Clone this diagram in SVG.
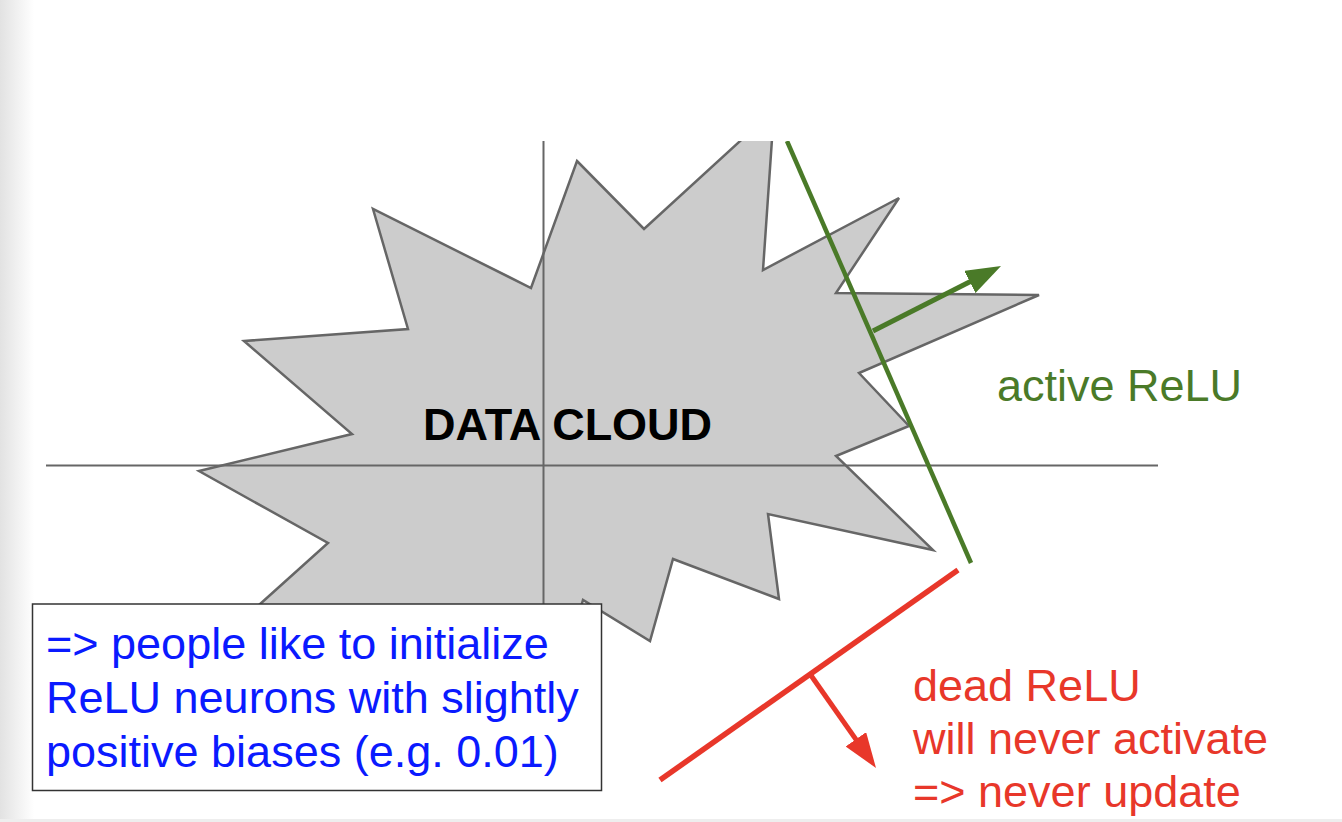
<svg xmlns="http://www.w3.org/2000/svg" width="1342" height="822" viewBox="0 0 1342 822">
<style>
  .axis{stroke:#666;stroke-width:2;fill:none}
  .star{fill:#cccccc;stroke:#666;stroke-width:2.5;stroke-linejoin:miter}
  .t{font-family:"Liberation Sans",Arial,sans-serif;font-size:45px}
  .green{fill:#4a7a28}
  .red{fill:#e8372a}
  .blue{fill:#0a1aff}
</style>
<defs>
  <linearGradient id="edge" x1="0" y1="0" x2="1" y2="0">
    <stop offset="0" stop-color="#e2e2e2"/>
    <stop offset="1" stop-color="#ffffff"/>
  </linearGradient>
  <clipPath id="top"><rect x="0" y="141" width="1342" height="681"/></clipPath>
  <marker id="ahG" viewBox="0 0 35 25" refX="15" refY="12.5" markerUnits="userSpaceOnUse" markerWidth="35" markerHeight="25" orient="auto">
    <path d="M0,0 L35,12.5 L0,25 z" fill="#4a7a28"/>
  </marker>
  <marker id="ahR" viewBox="0 0 35 25" refX="15" refY="12.5" markerUnits="userSpaceOnUse" markerWidth="35" markerHeight="25" orient="auto">
    <path d="M0,0 L35,12.5 L0,25 z" fill="#e8372a"/>
  </marker>
</defs>
<rect width="1342" height="822" fill="#ffffff"/>
<rect x="0" y="0" width="34" height="822" fill="url(#edge)"/>
<rect x="0" y="819" width="1342" height="3" fill="#eeeeee"/>

<g id="data-cloud" clip-path="url(#top)">
  <polygon class="star" points="577,161 644,229 774,110 763,270 899,198 836,293 1039,295 859,373 909,426 836,456 933,550 768,514 779,599 673,559 650,641 583,600 560,680 400,620 220,640 328,543 199,471 352,434 244,341 408,329 373,209 531,288"/>
  <text class="t" x="423" y="440" font-weight="bold" font-size="44.5" fill="#000">DATA CLOUD</text>
</g>

<g id="axes" clip-path="url(#top)">
  <line class="axis" x1="543.5" y1="141" x2="543.5" y2="604"/>
  <line class="axis" x1="46" y1="465.5" x2="1158" y2="465.5"/>
</g>

<g id="connectors">
  <line x1="787" y1="141" x2="971" y2="563" stroke="#4a7a28" stroke-width="4.5" clip-path="url(#top)"/>
  <line x1="873" y1="331" x2="983.2" y2="275.1" stroke="#4a7a28" stroke-width="5" marker-end="url(#ahG)"/>
  <line x1="958" y1="570" x2="660" y2="780" stroke="#e8372a" stroke-width="5.5"/>
  <line x1="810" y1="674" x2="864.5" y2="751.6" stroke="#e8372a" stroke-width="5" marker-end="url(#ahR)"/>
</g>

<g id="active-label">
  <text class="t green" x="997" y="401">active ReLU</text>
</g>

<g id="dead-label">
  <text class="t red" x="913" y="701">dead ReLU</text>
  <text class="t red" x="913" y="754">will never activate</text>
  <text class="t red" x="913" y="807">=&gt; never update</text>
</g>

<g id="note-box">
  <rect x="32.5" y="604" width="569" height="186.5" fill="#ffffff" stroke="#333" stroke-width="1.5"/>
  <text class="t blue" x="46" y="659">=&gt; people like to initialize</text>
  <text class="t blue" x="46" y="713">ReLU neurons with slightly</text>
  <text class="t blue" x="46" y="767">positive biases (e.g. 0.01)</text>
</g>
</svg>
